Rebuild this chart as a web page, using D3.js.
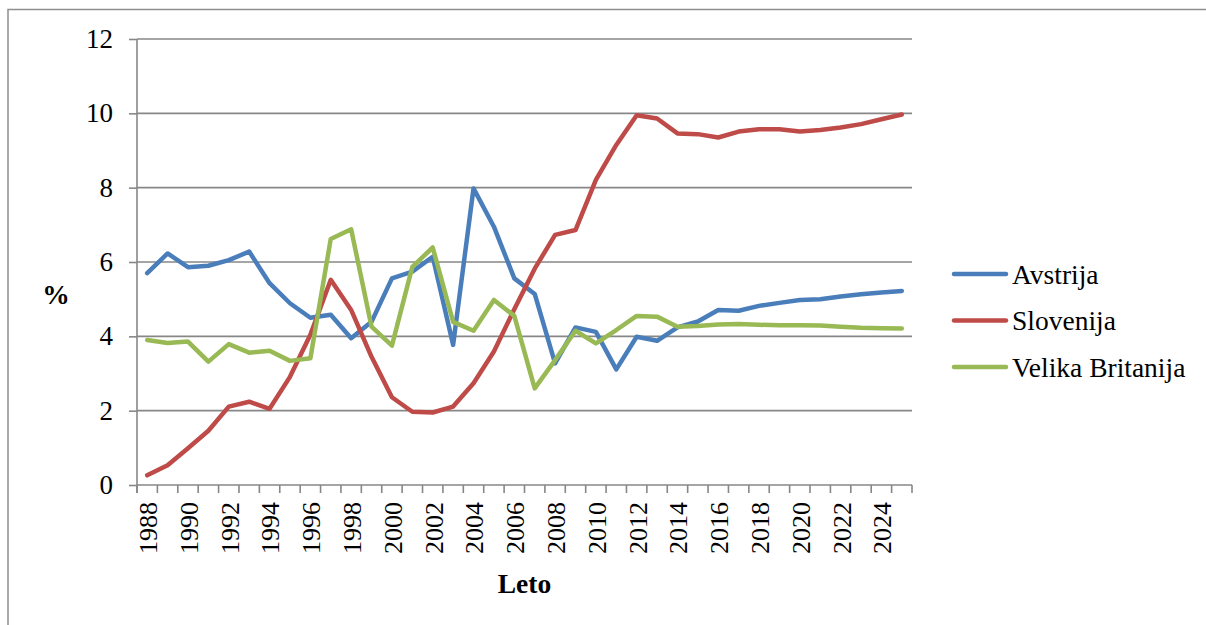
<!DOCTYPE html>
<html>
<head>
<meta charset="utf-8">
<script src="https://cdn.jsdelivr.net/npm/d3@7"></script>
<style>
  html, body { margin: 0; padding: 0; background: #fff; }
  svg { display: block; }
</style>
</head>
<body>
<svg id="chart" width="1206" height="625"></svg>
<script>
const years = d3.range(1988, 2026);
const avstrija = [5.70, 6.23, 5.86, 5.90, 6.05, 6.28, 5.43, 4.89, 4.50, 4.58,
                  3.95, 4.39, 5.56, 5.74, 6.14, 3.77, 7.98, 6.95, 5.56, 5.14,
                  3.27, 4.24, 4.12, 3.11, 3.99, 3.88, 4.24, 4.40, 4.71, 4.69,
                  4.82, 4.90, 4.98, 5.00, 5.07, 5.13, 5.18, 5.22];
const slovenija = [0.26, 0.53, 0.99, 1.46, 2.11, 2.24, 2.05, 2.91, 4.04, 5.52,
                   4.71, 3.45, 2.36, 1.97, 1.95, 2.11, 2.74, 3.59, 4.73, 5.82,
                   6.73, 6.86, 8.21, 9.15, 9.95, 9.86, 9.46, 9.44, 9.35, 9.51,
                   9.57, 9.57, 9.51, 9.55, 9.62, 9.71, 9.84, 9.97];
const britanija = [3.90, 3.82, 3.86, 3.32, 3.79, 3.56, 3.61, 3.34, 3.41, 6.62,
                   6.88, 4.26, 3.75, 5.87, 6.39, 4.39, 4.15, 4.98, 4.55, 2.60,
                   3.36, 4.15, 3.81, 4.17, 4.55, 4.53, 4.26, 4.28, 4.32, 4.33,
                   4.31, 4.30, 4.30, 4.29, 4.26, 4.23, 4.22, 4.21];
const seriesNames = ["Avstrija", "Slovenija", "Velika Britanija"];
const seriesColors = ["#4A7EBB", "#BE4B48", "#98B954"];
const yTicks = [0, 2, 4, 6, 8, 10, 12];
const xLabelYears = d3.range(1988, 2026, 2);

(function () {
const FONT = "Liberation Serif";
const series = [avstrija, slovenija, britanija];
const svg = d3.select("#chart");
const gray = "#878787";

// outer chart border (cut off at right/bottom)
svg.append("rect").attr("x", 8).attr("y", 9.5).attr("width", 1220).attr("height", 640)
  .attr("fill", "none").attr("stroke", "#8e8e8e").attr("stroke-width", 1.5);

const pLeft = 137, pRight = 912, pTop = 39, pBottom = 485;
const x = d3.scaleBand().domain(years).range([pLeft, pRight]).padding(0);
const y = d3.scaleLinear().domain([0, 12]).range([pBottom, pTop]);
const cx = d => x(d) + x.bandwidth() / 2;

// gridlines
svg.append("g").selectAll("line").data(yTicks.filter(t => t > 0)).join("line")
  .attr("x1", pLeft).attr("x2", pRight)
  .attr("y1", d => y(d)).attr("y2", d => y(d))
  .attr("stroke", gray).attr("stroke-width", 1.6);

// y axis
const yAxis = svg.append("g").attr("transform", `translate(${pLeft},0)`)
  .call(d3.axisLeft(y).tickValues(yTicks).tickSize(8).tickPadding(16).tickSizeOuter(0));
yAxis.attr("font-family", FONT).attr("font-size", 27);
yAxis.select(".domain").attr("stroke", gray).attr("stroke-width", 1.6)
  .attr("d", `M0,${pTop}V${pBottom + 8}`);
yAxis.selectAll(".tick line").attr("stroke", gray).attr("stroke-width", 1.6);
yAxis.selectAll(".tick text").attr("fill", "#000");

// x axis line and ticks at band boundaries
svg.append("line").attr("x1", pLeft).attr("x2", pRight).attr("y1", pBottom).attr("y2", pBottom)
  .attr("stroke", gray).attr("stroke-width", 1.6);
const boundaries = years.map(d => x(d)).concat([pRight]);
svg.append("g").selectAll("line").data(boundaries).join("line")
  .attr("x1", d => d).attr("x2", d => d).attr("y1", pBottom).attr("y2", pBottom + 8)
  .attr("stroke", gray).attr("stroke-width", 1.6);

// x labels rotated
svg.append("g").selectAll("text").data(xLabelYears).join("text")
  .attr("transform", d => `translate(${cx(d)},${pBottom + 17}) rotate(-90)`)
  .attr("text-anchor", "end").attr("dy", "0.38em")
  .attr("font-size", 26).attr("font-family", FONT).attr("fill", "#000")
  .text(d => d);

// lines
const line = d3.line().x((d, i) => cx(years[i])).y(d => y(d));
series.forEach((s, k) => {
  svg.append("path").datum(s).attr("d", line)
    .attr("fill", "none").attr("stroke", seriesColors[k]).attr("stroke-width", 4.5)
    .attr("stroke-linejoin", "round").attr("stroke-linecap", "round");
});

// axis titles
svg.append("text").attr("x", 56).attr("y", 304).attr("text-anchor", "middle")
  .attr("font-size", 27.5).attr("font-weight", "bold").attr("font-family", FONT).text("%");
svg.append("text").attr("x", (pLeft + pRight) / 2).attr("y", 593).attr("text-anchor", "middle")
  .attr("font-size", 27.5).attr("font-weight", "bold").attr("font-family", FONT).text("Leto");

// legend
const legY = [274, 320.5, 367];
const leg = svg.append("g").selectAll("g").data(seriesNames).join("g")
  .attr("transform", (d, i) => `translate(0,${legY[i]})`);
leg.append("line").attr("x1", 954).attr("x2", 1006).attr("y1", 0).attr("y2", 0)
  .attr("stroke", (d, i) => seriesColors[i]).attr("stroke-width", 4.5).attr("stroke-linecap", "round");
leg.append("text").attr("x", 1012).attr("dy", "0.345em").attr("font-size", 27.5)
  .attr("font-family", FONT).attr("fill", "#000").text(d => d);
})();
</script>
</body>
</html>
